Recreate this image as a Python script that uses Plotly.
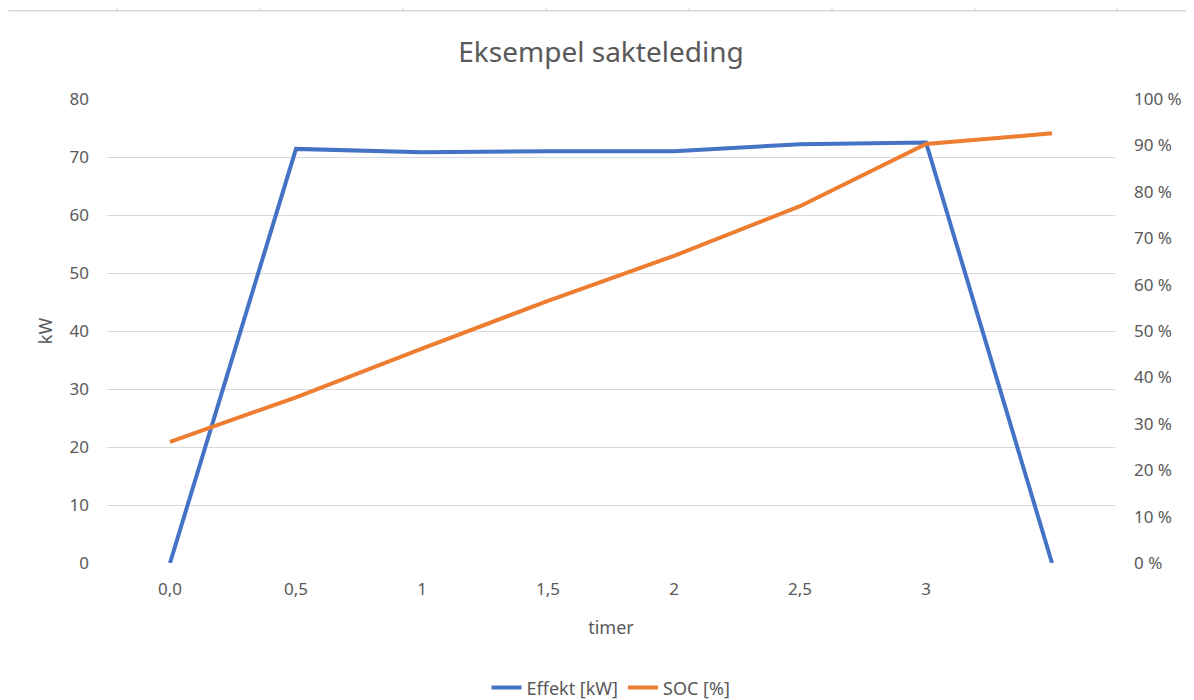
import plotly.graph_objects as go

hours = [0, 0.5, 1, 1.5, 2, 2.5, 3, 3.5]
tick_vals = [0, 0.5, 1, 1.5, 2, 2.5, 3]
tick_labels = ["0,0", "0,5", "1", "1,5", "2", "2,5", "3"]
effekt_kw = [0, 71.4, 70.8, 71.0, 71.0, 72.2, 72.5, 0]
soc_pct = [26.1, 35.7, 46.2, 56.5, 66.2, 76.9, 90.3, 92.6]

GREY = "#595959"
FONT = "Noto Sans"

fig = go.Figure()
fig.add_trace(go.Scatter(x=hours, y=effekt_kw, name="Effekt [kW]", mode="lines",
                         line=dict(color="#4472C4", width=4), yaxis="y"))
fig.add_trace(go.Scatter(x=hours, y=soc_pct, name="SOC [%]", mode="lines",
                         line=dict(color="#ED7D31", width=4), yaxis="y2"))

# faint spreadsheet border line at very top
shapes = [dict(type="line", xref="paper", yref="paper", x0=-0.098, x1=1.1, y0=1.19, y1=1.19,
               line=dict(color="#d9d9d9", width=1.5))]
for px in [117, 260, 403, 546, 689, 832, 975, 1117]:
    xp = (px - 107) / 1008
    shapes.append(dict(type="line", xref="paper", yref="paper", x0=xp, x1=xp, y0=1.19, y1=1.197,
                       line=dict(color="#d0d0d0", width=1)))

fig.update_layout(
    width=1186, height=692,
    margin=dict(l=99, r=79, t=91, b=137, autoexpand=False),
    paper_bgcolor="white", plot_bgcolor="white",
    font=dict(family=FONT, color=GREY, size=17),
    title=dict(text="Eksempel sakteleding", x=0.5, xanchor="center", y=0.9364, yanchor="middle",
               font=dict(size=28, color=GREY, family=FONT)),
    xaxis=dict(range=[-0.25, 3.75], tickvals=tick_vals, ticktext=tick_labels, automargin=False,
               showgrid=False, zeroline=False, showline=False, ticks="", ticklabelstandoff=14,
               title=dict(text="timer", standoff=22, font=dict(size=18, color=GREY)),
               tickfont=dict(size=17, color=GREY)),
    yaxis=dict(range=[0, 80], dtick=10, showgrid=True, gridcolor="#d9d9d9", gridwidth=1,
               automargin=False,
               zeroline=False, showline=False, ticks="", ticklabelstandoff=17,
               title=dict(text="kW", standoff=12, font=dict(size=18, color=GREY)),
               tickfont=dict(size=17, color=GREY)),
    yaxis2=dict(range=[0, 100], dtick=10, overlaying="y", side="right", showgrid=False,
                automargin=False,
                zeroline=False, showline=False, ticks="", ticksuffix=" %", ticklabelstandoff=18,
                tickfont=dict(size=17, color=GREY)),
    legend=dict(orientation="h", x=0.5, xanchor="center", y=-0.269, yanchor="middle",
                font=dict(size=18, color=GREY)),
    shapes=shapes,
    showlegend=True,
)

fig.write_html("out.html")
